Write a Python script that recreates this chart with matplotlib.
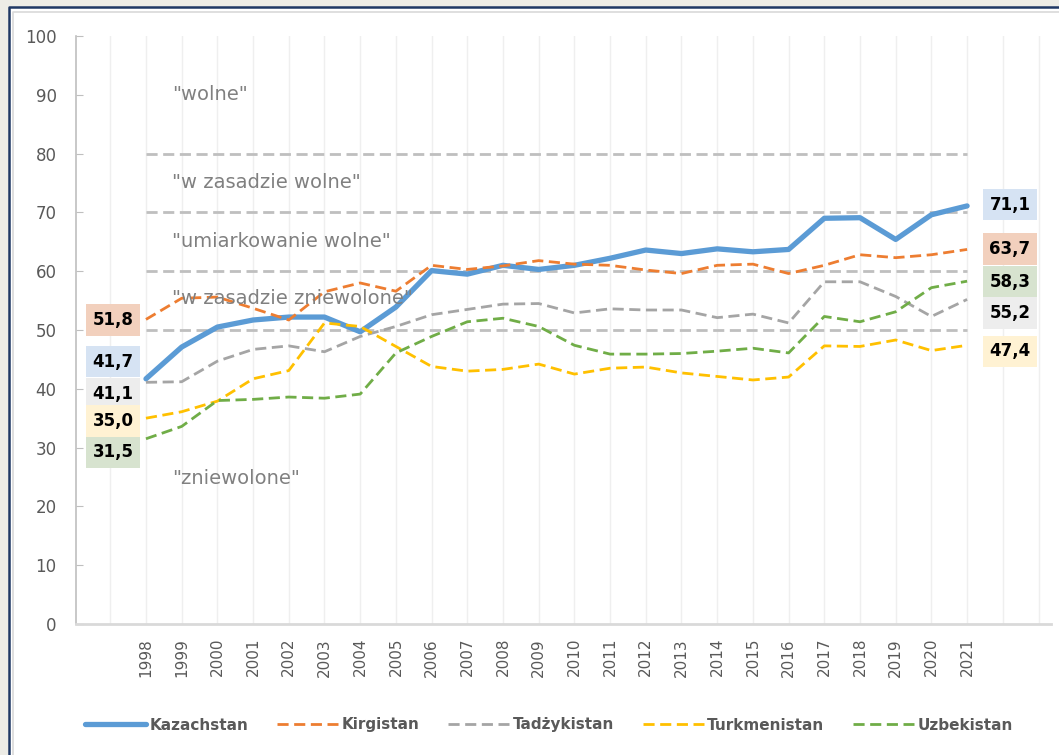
import matplotlib
matplotlib.use("Agg")
import matplotlib.pyplot as plt
from matplotlib.patches import Rectangle
from matplotlib.lines import Line2D
import numpy as np

years = list(range(1998, 2022))

kazachstan = [41.7, 47.1, 50.5, 51.7, 52.2, 52.2, 49.7, 53.9, 60.1, 59.5, 61.0, 60.3,
              61.0, 62.2, 63.6, 63.0, 63.8, 63.3, 63.7, 69.0, 69.1, 65.4, 69.6, 71.1]
kirgistan = [51.8, 55.4, 55.6, 53.7, 51.7, 56.5, 58.0, 56.6, 61.0, 60.3, 60.9, 61.8,
             61.2, 61.0, 60.2, 59.6, 61.0, 61.2, 59.6, 61.0, 62.8, 62.3, 62.8, 63.7]
tadzykistan = [41.1, 41.2, 44.7, 46.7, 47.3, 46.3, 48.9, 50.6, 52.6, 53.5, 54.4, 54.5,
               52.9, 53.6, 53.4, 53.4, 52.1, 52.7, 51.2, 58.2, 58.2, 55.7, 52.3, 55.2]
turkmenistan = [35.0, 36.1, 37.9, 41.7, 43.1, 51.2, 50.6, 47.2, 43.8, 43.0, 43.3, 44.2,
                42.5, 43.5, 43.7, 42.7, 42.1, 41.5, 42.0, 47.3, 47.2, 48.3, 46.5, 47.4]
uzbekistan = [31.5, 33.6, 38.0, 38.2, 38.6, 38.4, 39.1, 46.1, 48.9, 51.4, 52.0, 50.6,
              47.4, 45.9, 45.9, 46.0, 46.4, 46.9, 46.1, 52.3, 51.4, 53.1, 57.2, 58.3]

thresholds = [80, 70, 60, 50]
zone_labels = ['"wolne"', '"w zasadzie wolne"', '"umiarkowanie wolne"',
               '"w zasadzie zniewolone"', '"zniewolone"']
zone_y = [90, 75, 65, 55.4, 24.8]

names = ["Kazachstan", "Kirgistan", "Tadżykistan", "Turkmenistan", "Uzbekistan"]
series = [kazachstan, kirgistan, tadzykistan, turkmenistan, uzbekistan]
colors = ["#5B9BD5", "#ED7D31", "#A5A5A5", "#FFC000", "#70AD47"]
box_colors = ["#D6E3F3", "#F2D0BD", "#EDEDED", "#FFF2D3", "#D7E3CF"]

# label box positions (layout only)
left_label_y = [44.6, 51.7, 39.1, 34.5, 29.2]
right_label_y = [71.3, 63.8, 52.9, 46.4, 58.2]

W, H = 1059, 755
fig = plt.figure(figsize=(W / 100, H / 100), dpi=100)
fig.patch.set_facecolor("#EDECE6")

# white panel with navy frame on top / left (right and bottom are cut off)
fig.patches.append(Rectangle((9 / W, 0), 1, (H - 7) / H, transform=fig.transFigure,
                             facecolor="white", edgecolor="none", zorder=-2))
fig.lines.append(Line2D([9 / W, 9 / W, 1], [0, 1 - 7 / H, 1 - 7 / H],
                        transform=fig.transFigure, color="#1F3864", linewidth=1.8))
fig.lines.append(Line2D([13 / W, 13 / W, 1], [0, 1 - 11.5 / H, 1 - 11.5 / H],
                        transform=fig.transFigure, color="#D9D9D9", linewidth=1.2))

ax = fig.add_axes([76 / W, 1 - 624 / H, (1051 - 76) / W, (624 - 36) / H])
ax.set_facecolor("none")

x = np.arange(len(years))

for v in range(-1, 26):
    ax.axvline(v, color="#EFEFEF", linewidth=1, zorder=0)

for t in thresholds:
    ax.plot(x, [t] * len(x), color="#BFBFBF", linewidth=2, dashes=(4, 2), zorder=1)

for i, (name, vals, c) in enumerate(zip(names, series, colors)):
    if i == 0:
        ax.plot(x, vals, color=c, linewidth=3.8, solid_capstyle="round", label=name, zorder=2)
    else:
        ax.plot(x, vals, color=c, linewidth=2, dashes=(4, 2), label=name, zorder=3)

for txt, yv in zip(zone_labels, zone_y):
    ax.text(0.72, yv, txt, color="#808080", fontsize=14, va="center", ha="left", zorder=4)

for vals, bc, ly, ry in zip(series, box_colors, left_label_y, right_label_y):
    ax.text(-0.92, ly, f"{vals[0]:.1f}".replace(".", ","), fontsize=12, fontweight="bold",
            ha="center", va="center", color="black", zorder=5,
            bbox=dict(boxstyle="square,pad=0.4", facecolor=bc, edgecolor="none"))
    ax.text(24.2, ry, f"{vals[-1]:.1f}".replace(".", ","), fontsize=12, fontweight="bold",
            ha="center", va="center", color="black", zorder=5,
            bbox=dict(boxstyle="square,pad=0.4", facecolor=bc, edgecolor="none"))

ax.set_xlim(-1.96, 25.35)
ax.set_ylim(0, 100)
ax.set_yticks(range(0, 101, 10))
ax.set_xticks(x)
ax.set_xticklabels([str(y) for y in years], rotation=90, fontsize=11, color="#595959")
ax.tick_params(axis="y", direction="in", length=5, color="#BFBFBF", labelsize=12,
               labelcolor="#595959", pad=14)
ax.tick_params(axis="x", length=0, pad=10)

for s in ["top", "right"]:
    ax.spines[s].set_visible(False)
ax.spines["left"].set_color("#BFBFBF")
ax.spines["left"].set_linewidth(1.2)
ax.spines["bottom"].set_color("#D9D9D9")
ax.spines["bottom"].set_linewidth(2)

leg = fig.legend(loc="center", bbox_to_anchor=(549 / W, 1 - 725 / H), ncol=5,
                 frameon=False, handlelength=4.0, columnspacing=1.9, handletextpad=0.2,
                 prop={"size": 11, "weight": "bold"})
for t in leg.get_texts():
    t.set_color("#595959")

fig.savefig("out.png", dpi=100, facecolor=fig.get_facecolor())
